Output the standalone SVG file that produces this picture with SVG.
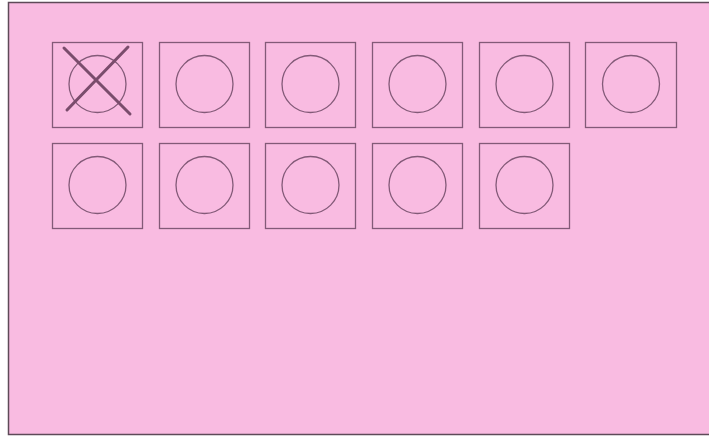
<svg xmlns="http://www.w3.org/2000/svg" width="709" height="436" viewBox="0 0 709 436">
<style>
.bg{fill:#f9bbe1;stroke:#5e4a58;stroke-width:1.5}
.box{fill:none;stroke:#835a78;stroke-width:1.3}
.c{fill:none;stroke:#835a78;stroke-width:1.3}
.x{stroke:#7a4c6c;stroke-width:3;stroke-linecap:round}
</style>
<rect class="bg" x="8.5" y="2.5" width="710" height="432"/>
<g id="n1"><rect class="box" x="52.5" y="42.5" width="90" height="85"/><circle class="c" cx="97.5" cy="84" r="28.5"/><line class="x" x1="64" y1="48" x2="130" y2="114"/><line class="x" x1="128" y1="47" x2="67" y2="110"/></g>
<g id="n2"><rect class="box" x="159.5" y="42.5" width="90" height="85"/><circle class="c" cx="204.5" cy="84" r="28.5"/></g>
<g id="n3"><rect class="box" x="265.5" y="42.5" width="90" height="85"/><circle class="c" cx="310.5" cy="84" r="28.5"/></g>
<g id="n4"><rect class="box" x="372.5" y="42.5" width="90" height="85"/><circle class="c" cx="417.5" cy="84" r="28.5"/></g>
<g id="n5"><rect class="box" x="479.5" y="42.5" width="90" height="85"/><circle class="c" cx="524.5" cy="84" r="28.5"/></g>
<g id="n6"><rect class="box" x="585.5" y="42.5" width="91" height="85"/><circle class="c" cx="631" cy="84" r="28.5"/></g>
<g id="n7"><rect class="box" x="52.5" y="143.5" width="90" height="85"/><circle class="c" cx="97.5" cy="185" r="28.5"/></g>
<g id="n8"><rect class="box" x="159.5" y="143.5" width="90" height="85"/><circle class="c" cx="204.5" cy="185" r="28.5"/></g>
<g id="n9"><rect class="box" x="265.5" y="143.5" width="90" height="85"/><circle class="c" cx="310.5" cy="185" r="28.5"/></g>
<g id="n10"><rect class="box" x="372.5" y="143.5" width="90" height="85"/><circle class="c" cx="417.5" cy="185" r="28.5"/></g>
<g id="n11"><rect class="box" x="479.5" y="143.5" width="90" height="85"/><circle class="c" cx="524.5" cy="185" r="28.5"/></g>
<g id="connectors"></g>
</svg>
